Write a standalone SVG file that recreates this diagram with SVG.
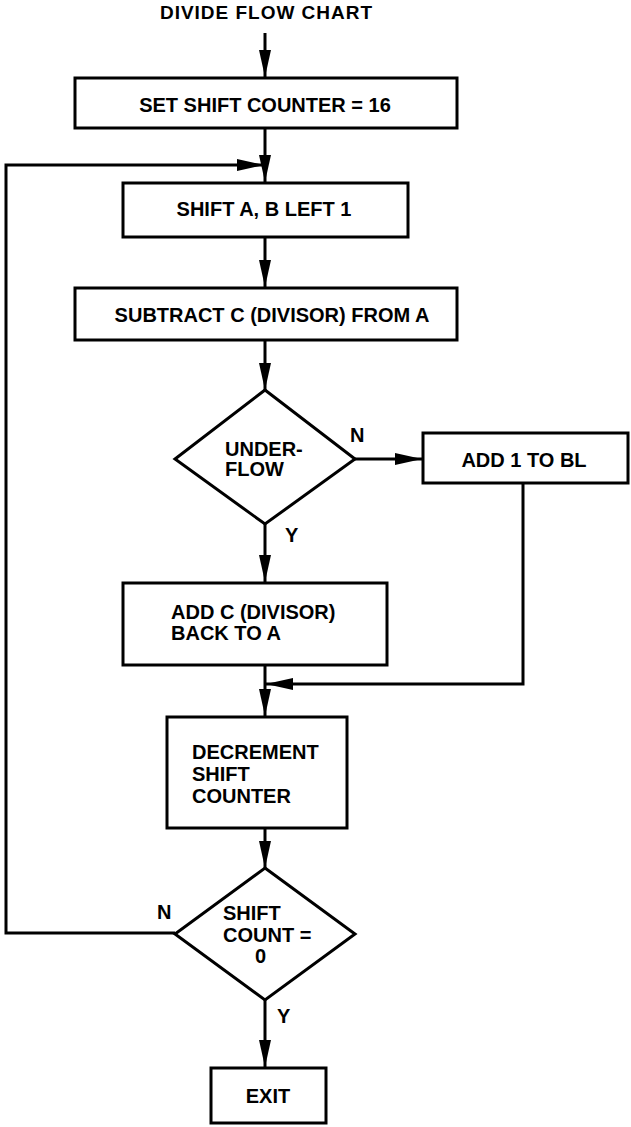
<svg xmlns="http://www.w3.org/2000/svg" width="631" height="1127" viewBox="0 0 631 1127">
<style>
.box{fill:#fff;stroke:#000;stroke-width:3}
.ln{fill:none;stroke:#000;stroke-width:3}
.t{font-family:"Liberation Sans",Arial,sans-serif;font-weight:bold;font-size:20px;fill:#000}
.c{text-anchor:middle}
</style>
<defs>
<marker id="ah" markerUnits="userSpaceOnUse" markerWidth="28" markerHeight="13" refX="27" refY="6.5" orient="auto">
<path d="M0,0.5 L27,6.5 L0,12.5 z" fill="#000"/>
</marker>
</defs>
<rect width="631" height="1127" fill="#fff"/>
<text class="t c" x="266" y="19" style="font-size:19px" textLength="212" lengthAdjust="spacing">DIVIDE FLOW CHART</text>

<g id="connectors">
<line class="ln" x1="265" y1="33" x2="265" y2="77" marker-end="url(#ah)"/>
<line class="ln" x1="265" y1="128" x2="265" y2="182" marker-end="url(#ah)"/>
<polyline class="ln" points="175,933 6,933 6,165 264,165" marker-end="url(#ah)"/>
<line class="ln" x1="265" y1="237" x2="265" y2="287" marker-end="url(#ah)"/>
<line class="ln" x1="265" y1="340" x2="265" y2="390" marker-end="url(#ah)"/>
<line class="ln" x1="355" y1="459" x2="422" y2="459" marker-end="url(#ah)"/>
<line class="ln" x1="265" y1="524" x2="265" y2="582" marker-end="url(#ah)"/>
<polyline class="ln" points="523,483 523,684 266,684" marker-end="url(#ah)"/>
<line class="ln" x1="265" y1="665" x2="265" y2="716" marker-end="url(#ah)"/>
<line class="ln" x1="265" y1="828" x2="265" y2="868" marker-end="url(#ah)"/>
<line class="ln" x1="265" y1="1000" x2="265" y2="1067" marker-end="url(#ah)"/>
</g>

<g id="set-counter">
<rect class="box" x="75" y="78" width="382" height="50"/>
<text class="t c" x="265" y="112">SET SHIFT COUNTER = 16</text>
</g>
<g id="shift-ab">
<rect class="box" x="123" y="183" width="285" height="54"/>
<text class="t c" x="264" y="216">SHIFT A, B LEFT 1</text>
</g>
<g id="subtract">
<rect class="box" x="75" y="288" width="382" height="52"/>
<text class="t c" x="272" y="322">SUBTRACT C (DIVISOR) FROM A</text>
</g>
<g id="underflow">
<polygon class="box" points="265,390 355,459 265,524 175,459"/>
<text class="t" x="225" y="456">UNDER-</text>
<text class="t" x="225" y="476">FLOW</text>
<text class="t" x="350" y="442">N</text>
<text class="t" x="285" y="542">Y</text>
</g>
<g id="add1">
<rect class="box" x="423" y="433" width="205" height="50"/>
<text class="t c" x="524" y="467">ADD 1 TO BL</text>
</g>
<g id="addc">
<rect class="box" x="123" y="583" width="264" height="82"/>
<text class="t" x="171" y="619">ADD C (DIVISOR)</text>
<text class="t" x="171" y="640">BACK TO A</text>
</g>
<g id="decrement">
<rect class="box" x="167" y="717" width="180" height="111"/>
<text class="t" x="192" y="759">DECREMENT</text>
<text class="t" x="192" y="781">SHIFT</text>
<text class="t" x="192" y="803">COUNTER</text>
</g>
<g id="shiftcount">
<polygon class="box" points="265,868 355,934 265,1000 175,934"/>
<text class="t" x="223" y="920">SHIFT</text>
<text class="t" x="223" y="942">COUNT =</text>
<text class="t" x="255" y="963">0</text>
<text class="t" x="157" y="919">N</text>
<text class="t" x="277" y="1023">Y</text>
</g>
<g id="exit">
<rect class="box" x="211" y="1068" width="115" height="55"/>
<text class="t c" x="268" y="1103">EXIT</text>
</g>
</svg>
